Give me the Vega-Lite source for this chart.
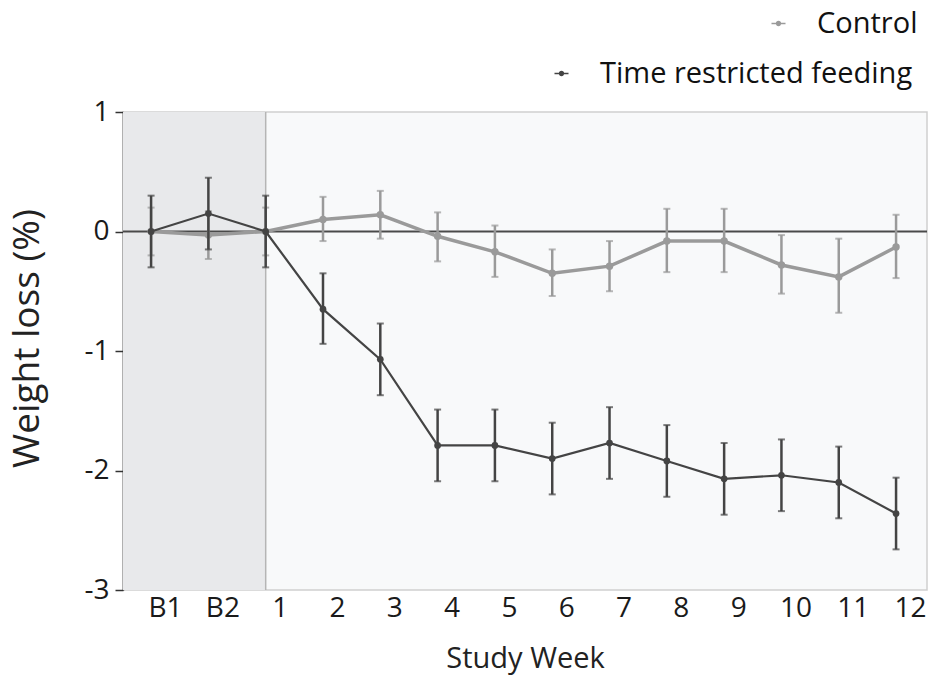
{
  "$schema": "https://vega.github.io/schema/vega-lite/v6.json",
  "width": 804,
  "height": 478,
  "autosize": {"type": "none"},
  "padding": {"left": 123, "top": 112, "right": 11, "bottom": 92},
  "background": "#ffffff",
  "config": {
    "view": {"fill": "#f8f9fa", "stroke": "#cfcfcf", "strokeWidth": 1.5},
    "font": "Open Sans",
    "axis": {"grid": false, "labelFont": "Open Sans", "titleFont": "Open Sans", "labelColor": "#1a1a1a", "titleColor": "#222222", "titleFontWeight": "normal"}
  },
  "datasets": {
    "series": [
      {"group": "Control", "idx": 0, "week": "B1", "mean": 0.0, "lo": -0.2, "hi": 0.2},
      {"group": "Control", "idx": 1, "week": "B2", "mean": -0.03, "lo": -0.23, "hi": 0.17},
      {"group": "Control", "idx": 2, "week": "1", "mean": 0.0, "lo": -0.2, "hi": 0.2},
      {"group": "Control", "idx": 3, "week": "2", "mean": 0.10, "lo": -0.08, "hi": 0.29},
      {"group": "Control", "idx": 4, "week": "3", "mean": 0.14, "lo": -0.06, "hi": 0.34},
      {"group": "Control", "idx": 5, "week": "4", "mean": -0.04, "lo": -0.25, "hi": 0.16},
      {"group": "Control", "idx": 6, "week": "5", "mean": -0.17, "lo": -0.38, "hi": 0.05},
      {"group": "Control", "idx": 7, "week": "6", "mean": -0.35, "lo": -0.54, "hi": -0.15},
      {"group": "Control", "idx": 8, "week": "7", "mean": -0.29, "lo": -0.50, "hi": -0.08},
      {"group": "Control", "idx": 9, "week": "8", "mean": -0.08, "lo": -0.34, "hi": 0.19},
      {"group": "Control", "idx": 10, "week": "9", "mean": -0.08, "lo": -0.34, "hi": 0.19},
      {"group": "Control", "idx": 11, "week": "10", "mean": -0.28, "lo": -0.52, "hi": -0.03},
      {"group": "Control", "idx": 12, "week": "11", "mean": -0.38, "lo": -0.68, "hi": -0.06},
      {"group": "Control", "idx": 13, "week": "12", "mean": -0.13, "lo": -0.39, "hi": 0.14},
      {"group": "Time restricted feeding", "idx": 0, "week": "B1", "mean": 0.0, "lo": -0.3, "hi": 0.3},
      {"group": "Time restricted feeding", "idx": 1, "week": "B2", "mean": 0.15, "lo": -0.15, "hi": 0.45},
      {"group": "Time restricted feeding", "idx": 2, "week": "1", "mean": 0.0, "lo": -0.3, "hi": 0.3},
      {"group": "Time restricted feeding", "idx": 3, "week": "2", "mean": -0.65, "lo": -0.94, "hi": -0.35},
      {"group": "Time restricted feeding", "idx": 4, "week": "3", "mean": -1.07, "lo": -1.37, "hi": -0.77},
      {"group": "Time restricted feeding", "idx": 5, "week": "4", "mean": -1.79, "lo": -2.09, "hi": -1.49},
      {"group": "Time restricted feeding", "idx": 6, "week": "5", "mean": -1.79, "lo": -2.09, "hi": -1.49},
      {"group": "Time restricted feeding", "idx": 7, "week": "6", "mean": -1.90, "lo": -2.20, "hi": -1.60},
      {"group": "Time restricted feeding", "idx": 8, "week": "7", "mean": -1.77, "lo": -2.07, "hi": -1.47},
      {"group": "Time restricted feeding", "idx": 9, "week": "8", "mean": -1.92, "lo": -2.22, "hi": -1.62},
      {"group": "Time restricted feeding", "idx": 10, "week": "9", "mean": -2.07, "lo": -2.37, "hi": -1.77},
      {"group": "Time restricted feeding", "idx": 11, "week": "10", "mean": -2.04, "lo": -2.34, "hi": -1.74},
      {"group": "Time restricted feeding", "idx": 12, "week": "11", "mean": -2.10, "lo": -2.40, "hi": -1.80},
      {"group": "Time restricted feeding", "idx": 13, "week": "12", "mean": -2.36, "lo": -2.66, "hi": -2.06}
    ],
    "periods": [
      {"period": "Baseline", "start": -0.49, "end": 2}
    ]
  },
  "layer": [
    {
      "data": {"name": "periods"},
      "mark": {"type": "rect", "fill": "#e8e9eb"},
      "encoding": {
        "x": {"field": "start", "type": "quantitative", "scale": {"domain": [-0.49, 13.54], "nice": false, "zero": false},
          "axis": {"values": [0,1,2,3,4,5,6,7,8,9,10,11,12,13], "labelExpr": "datum.value == 0 ? 'B1' : datum.value == 1 ? 'B2' : '' + (datum.value - 1)", "ticks": false, "domain": false, "labelFontSize": 28, "labelPadding": 4, "labelOffset": 14, "labelFlush": false, "labelOverlap": false, "title": "Study Week", "titleFontSize": 29, "titlePadding": 22}},
        "x2": {"field": "end"},
        "y": {"datum": -3, "type": "quantitative", "scale": {"domain": [-3, 1], "nice": false},
          "axis": {"values": [-3,-2,-1,0,1], "labelExpr": "'' + datum.value", "tickSize": 8, "tickColor": "#333333", "tickWidth": 1.5, "domainColor": "#333333", "domainWidth": 1.5, "labelFontSize": 28, "labelPadding": 6, "labelFlush": false, "title": "Weight loss (%)", "titleFontSize": 37, "titlePadding": 37, "titleY": 226}},
        "y2": {"datum": 1}
      }
    },
    {
      "data": {"name": "periods"},
      "mark": {"type": "rule", "color": "#b5b5b5", "strokeWidth": 1.5},
      "encoding": {"x": {"field": "end", "type": "quantitative"}}
    },
    {
      "data": {"values": [{"ref": 0}]},
      "mark": {"type": "rule", "color": "#4a4a4a", "strokeWidth": 2},
      "encoding": {"y": {"field": "ref", "type": "quantitative"}}
    },
    {
      "data": {"name": "series"},
      "transform": [{"filter": "datum.group == 'Control'"}],
      "layer": [
        {"mark": {"type": "rule", "color": "#9a9a9a", "strokeWidth": 2.5},
         "encoding": {"x": {"field": "idx", "type": "quantitative"}, "y": {"field": "lo", "type": "quantitative"}, "y2": {"field": "hi"}}},
        {"mark": {"type": "tick", "orient": "horizontal", "color": "#9a9a9a", "size": 7, "thickness": 2},
         "encoding": {"x": {"field": "idx", "type": "quantitative"}, "y": {"field": "lo", "type": "quantitative"}}},
        {"mark": {"type": "tick", "orient": "horizontal", "color": "#9a9a9a", "size": 7, "thickness": 2},
         "encoding": {"x": {"field": "idx", "type": "quantitative"}, "y": {"field": "hi", "type": "quantitative"}}},
        {"mark": {"type": "line", "color": "#9a9a9a", "strokeWidth": 3.5},
         "encoding": {"x": {"field": "idx", "type": "quantitative"}, "y": {"field": "mean", "type": "quantitative"}}},
        {"mark": {"type": "point", "filled": true, "size": 55, "opacity": 1},
         "encoding": {"x": {"field": "idx", "type": "quantitative"}, "y": {"field": "mean", "type": "quantitative"},
           "color": {"field": "group", "type": "nominal", "scale": {"domain": ["Control"], "range": ["#9a9a9a"]},
             "legend": {"orient": "none", "legendX": 641, "legendY": -103, "title": null, "padding": 0,
               "symbolType": "M-1,-0.12L1,-0.12L1,0.12L-1,0.12Z M0.38,0A0.38,0.38,0,1,1,-0.38,0A0.38,0.38,0,1,1,0.38,0Z",
               "symbolSize": 196, "symbolOpacity": 1, "symbolStrokeWidth": 0, "labelFont": "Open Sans", "labelFontSize": 29, "labelLimit": 500, "labelColor": "#111111", "labelOffset": 24}}}}
      ]
    },
    {
      "data": {"name": "series"},
      "transform": [{"filter": "datum.group == 'Time restricted feeding'"}],
      "layer": [
        {"mark": {"type": "rule", "color": "#444444", "strokeWidth": 2.5},
         "encoding": {"x": {"field": "idx", "type": "quantitative"}, "y": {"field": "lo", "type": "quantitative"}, "y2": {"field": "hi"}}},
        {"mark": {"type": "tick", "orient": "horizontal", "color": "#444444", "size": 7, "thickness": 2},
         "encoding": {"x": {"field": "idx", "type": "quantitative"}, "y": {"field": "lo", "type": "quantitative"}}},
        {"mark": {"type": "tick", "orient": "horizontal", "color": "#444444", "size": 7, "thickness": 2},
         "encoding": {"x": {"field": "idx", "type": "quantitative"}, "y": {"field": "hi", "type": "quantitative"}}},
        {"mark": {"type": "line", "color": "#444444", "strokeWidth": 2.2},
         "encoding": {"x": {"field": "idx", "type": "quantitative"}, "y": {"field": "mean", "type": "quantitative"}}},
        {"mark": {"type": "point", "filled": true, "size": 45, "opacity": 1},
         "encoding": {"x": {"field": "idx", "type": "quantitative"}, "y": {"field": "mean", "type": "quantitative"},
           "color": {"field": "group", "type": "nominal", "scale": {"domain": ["Time restricted feeding"], "range": ["#444444"]},
             "legend": {"orient": "none", "legendX": 424, "legendY": -53, "title": null, "padding": 0,
               "symbolType": "M-1,-0.12L1,-0.12L1,0.12L-1,0.12Z M0.38,0A0.38,0.38,0,1,1,-0.38,0A0.38,0.38,0,1,1,0.38,0Z",
               "symbolSize": 196, "symbolOpacity": 1, "symbolStrokeWidth": 0, "labelFont": "Open Sans", "labelFontSize": 29, "labelLimit": 500, "labelColor": "#111111", "labelOffset": 24}}}}
      ]
    }
  ],
  "resolve": {"scale": {"color": "independent"}, "legend": {"color": "independent"}}
}
